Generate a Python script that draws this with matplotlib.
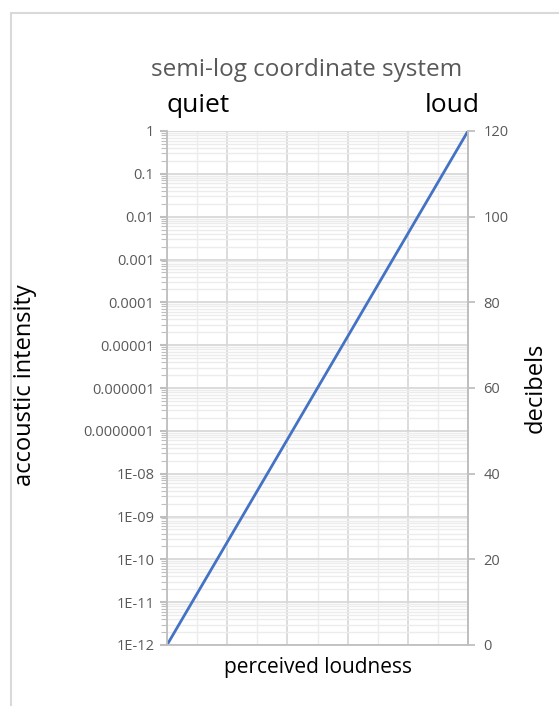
import numpy as np
import matplotlib
matplotlib.use("Agg")
import matplotlib.pyplot as plt
from matplotlib.patches import Rectangle

# Chart data
loudness = [0, 10]
intensity = [1e-12, 1]
decibels = [0, 120]
intensity_ticks = [1e-12, 1e-11, 1e-10, 1e-9, 1e-8, 1e-7, 1e-6, 1e-5, 1e-4, 1e-3, 1e-2, 1e-1, 1]
intensity_labels = ["1E-12", "1E-11", "1E-10", "1E-09", "1E-08", "0.0000001", "0.000001",
                    "0.00001", "0.0001", "0.001", "0.01", "0.1", "1"]
db_ticks = [0, 20, 40, 60, 80, 100, 120]

plt.rcParams['font.family'] = ['Open Sans', 'DejaVu Sans']

fig = plt.figure(figsize=(5.59, 7.06), dpi=100)

# light frame of the chart area
fig.patches.append(Rectangle((11 / 559, -0.1), 1.2, 1 - 13 / 706 + 0.1, transform=fig.transFigure,
                             fill=False, edgecolor="#d9d9d9", linewidth=1.5))

ax = fig.add_axes([167 / 559, 1 - 645 / 706, (468 - 167) / 559, (645 - 131) / 706])
ax.set_yscale("log")
ax.set_ylim(1e-12, 1)
ax.set_xlim(0, 10)

# grid
ax.set_xticks([0, 2, 4, 6, 8, 10])
ax.set_xticks([1, 3, 5, 7, 9], minor=True)
ax.set_yticks(intensity_ticks)
ax.set_yticklabels(intensity_labels)
ax.yaxis.set_minor_locator(matplotlib.ticker.LogLocator(base=10, subs=np.arange(2, 10), numticks=100))
ax.yaxis.set_minor_formatter(matplotlib.ticker.NullFormatter())
ax.grid(True, which="major", color="#d9d9d9", linewidth=1.3)
ax.grid(True, which="minor", color="#ececec", linewidth=1.0)
ax.set_axisbelow(True)

ax.tick_params(axis="x", which="both", length=0, labelbottom=False)
ax.tick_params(axis="y", which="major", length=5, width=1.5, color="#bfbfbf",
               labelsize=10.5, labelcolor="#595959", pad=4)
ax.tick_params(axis="y", which="minor", length=4, width=0.8, color="#bfbfbf")
ax.spines["top"].set_visible(False)
for side in ["left", "bottom", "right"]:
    ax.spines[side].set_color("#bfbfbf")
    ax.spines[side].set_linewidth(1.3)

ax.plot(loudness, intensity, color="#4472C4", linewidth=2)

# decibel axis
ax2 = ax.twinx()
ax2.set_ylim(0, 120)
ax2.set_yticks(db_ticks)
ax2.tick_params(axis="y", length=5, width=1.3, color="#bfbfbf", labelsize=10.5,
                labelcolor="#595959", pad=6)
for side in ["top", "left", "bottom"]:
    ax2.spines[side].set_visible(False)
ax2.spines["right"].set_color("#bfbfbf")
ax2.spines["right"].set_linewidth(1.3)

fig.text(307 / 559, 1 - 70 / 706, "semi-log coordinate system", ha="center", va="center",
         fontsize=17.5, color="#595959")
fig.text(166 / 559, 1 - 106 / 706, "quiet", ha="left", va="center", fontsize=19, color="black")
fig.text(480 / 559, 1 - 106 / 706, "loud", ha="right", va="center", fontsize=19, color="black")
fig.text(25 / 559, 1 - 385 / 706, "accoustic intensity", ha="center", va="center",
         rotation=90, fontsize=17, color="black")
fig.text(536 / 559, 1 - 388 / 706, "decibels", ha="center", va="center",
         rotation=90, fontsize=17, color="black")
fig.text(318 / 559, 1 - 668 / 706, "perceived loudness", ha="center", va="center",
         fontsize=15, color="black")

fig.savefig("out.png", dpi=100)
